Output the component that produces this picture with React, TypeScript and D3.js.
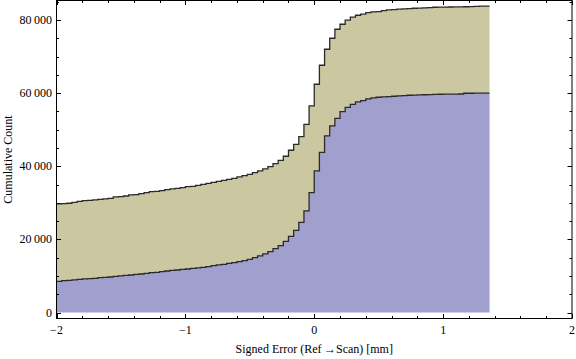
import React from "react";
import * as d3 from "d3";

// histogram bins: width 0.04 starting at -2 (84 bins up to 1.36)
const binStart = -2;
const binWidth = 0.04;

// cumulative counts, lower (blue) series
const blueCumulative = [
  8530, 8700, 8800, 8900, 9070, 9170, 9260, 9350, 9530, 9620,
  9710, 9890, 9990, 10170, 10260, 10440, 10530, 10720, 10900, 10990,
  11170, 11350, 11540, 11630, 11810, 11900, 12080, 12180, 12360, 12540,
  12810, 13000, 13180, 13450, 13630, 13910, 14180, 14550, 15000, 15460,
  16010, 16640, 17470, 18290, 19470, 20840, 22450, 24670, 27770, 32790,
  38710, 43820, 48290, 51030, 53120, 54950, 56130, 56950, 57590, 57960,
  58410, 58690, 58870, 58960, 59050, 59140, 59230, 59330, 59420, 59460,
  59510, 59550, 59600, 59650, 59690, 59700, 59720, 59740, 59760, 59960,
  59970, 59980, 59990, 60000,
];

// cumulative counts, stacked total (blue + tan)
const totalCumulative = [
  29750, 29800, 29880, 30120, 30410, 30600, 30690, 30780, 30960, 31050,
  31240, 31600, 31690, 31870, 32150, 32240, 32510, 32790, 33060, 33150,
  33330, 33610, 33790, 33970, 34150, 34430, 34520, 34790, 35070, 35340,
  35610, 35890, 36160, 36430, 36710, 37070, 37440, 37800, 38260, 38710,
  39260, 39900, 40720, 41630, 42730, 44370, 46010, 48110, 51480, 56500,
  62430, 67630, 72000, 75010, 77470, 78840, 79940, 80760, 81300, 81580,
  82030, 82220, 82310, 82580, 82760, 82860, 82950, 83040, 83130, 83220,
  83240, 83310, 83400, 83490, 83520, 83540, 83560, 83580, 83600, 83620,
  83640, 83700, 83770, 83780,
];

const xMajorTicks = [-2, -1, 0, 1, 2];
const xMinorTicks = d3.range(-2, 2.001, 0.2);
const yMajorTicks = [0, 20000, 40000, 60000, 80000];
const yMinorTicks = d3.range(0, 85001, 5000);
const yTickLabels = ["0", "20\u2009000", "40\u2009000", "60\u2009000", "80\u2009000"];
const xTickLabels = ["\u22122", "\u22121", "0", "1", "2"];

const W = 576;
const H = 359;
const left = 56.5;
const right = 572;
const top = 0.5;
const bottom = 318.5;

const font = "'Liberation Serif', 'Times New Roman', serif";

export default function App() {
  const x = d3.scaleLinear().domain([-2, 2]).range([left, right]);
  const y = d3.scaleLinear().domain([0, 80000]).range([312.5, 20]);

  const rows = blueCumulative.map((b, i) => ({
    edge: binStart + i * binWidth,
    blue: b,
    tan: totalCumulative[i] - b,
  }));
  // closing point at the right edge of the last bin
  const last = rows[rows.length - 1];
  const data = [...rows, { ...last, edge: binStart + rows.length * binWidth }];

  const stacked = d3.stack<any>().keys(["blue", "tan"])(data);
  const colors = ["#a09fcd", "#cbc7a1"];

  const area = d3
    .area<any>()
    .x((d) => x(d.data.edge))
    .y0((d) => y(d[0]))
    .y1((d) => y(d[1]))
    .curve(d3.curveStepAfter);

  const line = d3
    .line<any>()
    .x((d) => x(d.data.edge))
    .y((d) => y(d[1]))
    .curve(d3.curveStepAfter);

  const isMajorX = (v: number) => Math.abs(v - Math.round(v)) < 1e-6;
  const isMajorY = (v: number) => v % 20000 === 0;

  return (
    <svg
      width={W}
      height={H}
      style={{ position: "absolute", left: 0, top: 0, background: "#fff" }}
      fontFamily={font}
    >
      <defs>
        <clipPath id="plot">
          <rect x={left} y={top} width={right - left} height={bottom - top} />
        </clipPath>
      </defs>
      <g clipPath="url(#plot)">
        {stacked.map((s, i) => (
          <path key={"a" + i} d={area(s) || ""} fill={colors[i]} />
        ))}
        {stacked.map((s, i) => (
          <path
            key={"l" + i}
            d={line(s.slice(0, s.length - 1).concat([s[s.length - 1]])) || ""}
            fill="none"
            stroke="#2a2a2a"
            strokeWidth={1.3}
          />
        ))}
      </g>

      {/* frame */}
      <rect
        x={left}
        y={top}
        width={right - left}
        height={bottom - top}
        fill="none"
        stroke="#000"
        strokeWidth={1}
      />

      {/* x ticks, bottom and top */}
      {xMinorTicks.map((v, i) => {
        const len = isMajorX(v) ? 4.5 : 2.5;
        const px = Math.round(x(v)) + 0.5;
        return (
          <g key={"xt" + i} stroke="#000" strokeWidth={1}>
            <line x1={px} x2={px} y1={bottom} y2={bottom - len} />
            <line x1={px} x2={px} y1={top} y2={top + len} />
          </g>
        );
      })}
      {/* y ticks, left and right */}
      {yMinorTicks.map((v, i) => {
        const len = isMajorY(v) ? 4.5 : 2.5;
        const py = Math.round(y(v)) + 0.5;
        return (
          <g key={"yt" + i} stroke="#000" strokeWidth={1}>
            <line x1={left} x2={left + len} y1={py} y2={py} />
            <line x1={right} x2={right - len} y1={py} y2={py} />
          </g>
        );
      })}

      {xMajorTicks.map((v, i) => (
        <text key={"xl" + i} x={x(v)} y={334} fontSize={12} textAnchor="middle" fill="#000">
          {xTickLabels[i]}
        </text>
      ))}
      {yMajorTicks.map((v, i) => (
        <text key={"yl" + i} x={52} y={y(v) + 4} fontSize={12} textAnchor="end" fill="#000">
          {yTickLabels[i]}
        </text>
      ))}

      <text x={(left + right) / 2} y={353} fontSize={12} textAnchor="middle" fill="#000">
        Signed Error (Ref{"\u2009"}→Scan) [mm]
      </text>
      <text
        transform={`translate(12,${(top + bottom) / 2}) rotate(-90)`}
        fontSize={12}
        textAnchor="middle"
        fill="#000"
      >
        Cumulative Count
      </text>
    </svg>
  );
}
